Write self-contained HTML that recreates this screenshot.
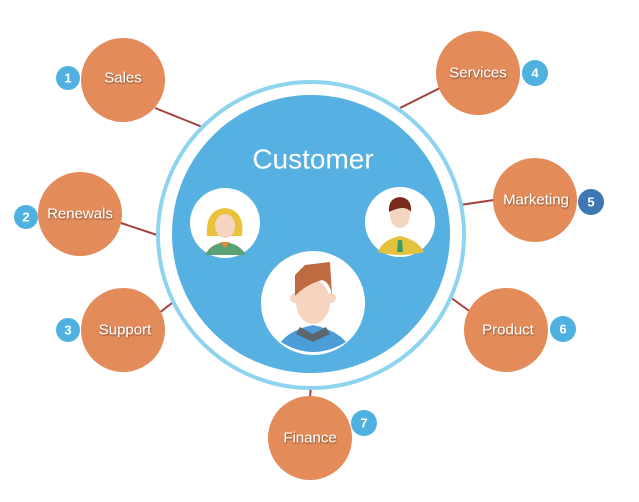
<!DOCTYPE html>
<html><head><meta charset="utf-8"><style>
html,body{margin:0;padding:0;background:#fff;width:639px;height:502px;overflow:hidden}
svg{display:block}
text{font-family:"Liberation Sans",sans-serif}
.lbl{fill:#fff;font-size:15px;text-anchor:middle;dominant-baseline:central;filter:url(#sh)}
.num{fill:#fff;font-size:13px;font-weight:bold;text-anchor:middle;dominant-baseline:central}
</style></head><body>
<svg width="639" height="502" viewBox="0 0 639 502">
<defs><filter id="sh" x="-20%" y="-20%" width="140%" height="160%"><feDropShadow dx="0.5" dy="1" stdDeviation="0.8" flood-color="#000" flood-opacity="0.5"/></filter></defs>
<g stroke="#a4413c" stroke-width="2">
<line x1="155" y1="108" x2="205" y2="128"/>
<line x1="118" y1="222" x2="160" y2="236"/>
<line x1="150" y1="320" x2="172" y2="303"/>
<line x1="440" y1="88" x2="400" y2="108"/>
<line x1="494" y1="200" x2="460" y2="205"/>
<line x1="472" y1="313" x2="450" y2="297"/>
<line x1="310" y1="397" x2="311" y2="386"/>
</g>
<circle cx="311" cy="235" r="153" fill="#fff" stroke="#8ed4ef" stroke-width="4"/>
<circle cx="311" cy="234" r="139" fill="#56b0e1"/>
<text x="313" y="159" font-size="28" fill="#fff" text-anchor="middle" dominant-baseline="central">Customer</text>
<!-- woman -->
<circle cx="225" cy="223" r="35" fill="#fff"/>
<path d="M207 236 Q205 210 225 208 Q245 210 242 236 Z" fill="#e9c23a"/>
<ellipse cx="225" cy="226" rx="10" ry="12" fill="#f5d5c0"/>
<path d="M205 255 Q210 244 225 242 Q240 244 246 255 Z" fill="#5aa274"/>
<path d="M220 242 L225 248 L230 242 Z" fill="#e08a3c"/>
<!-- man right -->
<circle cx="400" cy="222" r="35" fill="#fff"/>
<ellipse cx="400" cy="215" rx="10" ry="13" fill="#f5d5c0"/>
<path d="M389 212 Q388 198 400 197 Q412 198 411 212 Q405 204 389 212Z" fill="#7a2a1a"/>
<path d="M378 252 Q382 240 400 236 Q418 240 424 252 Q400 258 378 252Z" fill="#e5c23d"/>
<path d="M398 240 L402 240 L403 252 L397 252Z" fill="#3a9a6a"/>
<!-- big man -->
<circle cx="313" cy="303" r="52" fill="#fff"/>
<ellipse cx="313" cy="302" rx="17" ry="22" fill="#f5d5c0"/>
<circle cx="295" cy="298" r="5" fill="#f5d5c0"/><circle cx="331" cy="298" r="5" fill="#f5d5c0"/>
<path d="M295 296 L295 275 L305 265 L330 262 L332 296 Q330 282 322 280 Q305 285 295 296Z" fill="#bf6a40"/>
<path d="M281 342 Q290 330 313 325 Q336 330 346 342 Q313 362 281 342Z" fill="#4b9ed8"/>
<path d="M300 327 L313 334 L326 327 L330 334 L313 342 L296 334Z" fill="#5e6670"/>
<g fill="#e38b59">
<circle cx="123" cy="80" r="42"/><circle cx="80" cy="214" r="42"/><circle cx="123" cy="330" r="42"/>
<circle cx="310" cy="438" r="42"/><circle cx="506" cy="330" r="42"/><circle cx="535" cy="200" r="42"/><circle cx="478" cy="73" r="42"/>
</g>
<text class="lbl" x="123" y="78">Sales</text>
<text class="lbl" x="80" y="214">Renewals</text>
<text class="lbl" x="125" y="330">Support</text>
<text class="lbl" x="310" y="438">Finance</text>
<text class="lbl" x="508" y="330">Product</text>
<text class="lbl" x="536" y="200">Marketing</text>
<text class="lbl" x="478" y="73">Services</text>
<g fill="#4fb1e0">
<circle cx="68" cy="78" r="12"/><circle cx="26" cy="217" r="12"/><circle cx="68" cy="330" r="12"/>
<circle cx="535" cy="73" r="13"/><circle cx="563" cy="329" r="13"/><circle cx="364" cy="423" r="13"/>
</g>
<circle cx="591" cy="202" r="13" fill="#3f76b4"/>
<text class="num" x="68" y="78">1</text><text class="num" x="26" y="217">2</text><text class="num" x="68" y="330">3</text>
<text class="num" x="535" y="73">4</text><text class="num" x="591" y="202">5</text><text class="num" x="563" y="329">6</text><text class="num" x="364" y="423">7</text>
</svg>
</body></html>
